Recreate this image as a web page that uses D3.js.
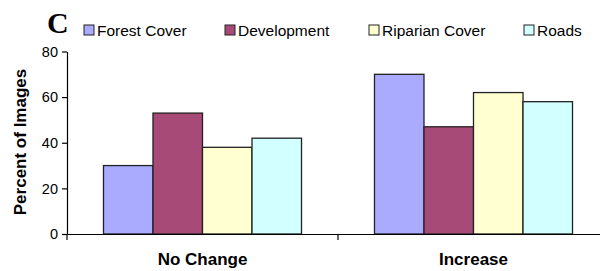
<!DOCTYPE html>
<html>
<head>
  <meta charset="utf-8">
  <script src="https://d3js.org/d3.v7.min.js"></script>
  <style type="text/css">
    body { margin: 0; background: #fff; }
    text { font-family: "Liberation Sans", Arial, sans-serif; }
  </style>
</head>
<body>
  <script type="text/javascript">
    // data
    var categories = ["No Change", "Increase"];
    var series = ["Forest Cover", "Development", "Riparian Cover", "Roads"];
    var forestCover = [30, 70];
    var development = [53, 47];
    var riparianCover = [38, 62];
    var roads = [42, 58];
    var yTicks = [0, 20, 40, 60, 80];
    var colors = ["#aaaaff", "#a84a78", "#ffffd2", "#d2ffff"];

    var values = [forestCover, development, riparianCover, roads];

    var width = 600, height = 271;
    var plotLeft = 67, plotRight = 609, plotTop = 51.5, plotBottom = 234;

    var svg = d3.select("body").append("svg")
        .attr("width", width)
        .attr("height", height);

    var x0 = d3.scaleBand().domain(categories).range([plotLeft, plotRight]);
    var x1 = d3.scaleBand().domain(series)
        .range([0, x0.bandwidth()])
        .paddingInner(0)
        .paddingOuter(0.737);
    var y = d3.scaleLinear().domain([0, 80]).range([plotBottom, plotTop]);

    // bars
    var groups = svg.selectAll("g.cat")
      .data(categories)
      .enter().append("g")
        .attr("class", "cat")
        .attr("transform", function (d) { return "translate(" + x0(d) + ",0)"; });

    groups.selectAll("rect")
      .data(function (d, i) {
        return series.map(function (s, j) { return { s: s, v: values[j][i], c: colors[j] }; });
      })
      .enter().append("rect")
        .attr("x", function (d) { return x1(d.s); })
        .attr("y", function (d) { return y(d.v); })
        .attr("width", x1.bandwidth())
        .attr("height", function (d) { return plotBottom - y(d.v); })
        .style("fill", function (d) { return d.c; })
        .style("stroke", "#222")
        .style("stroke-width", 1.3);

    // y axis
    var yAxis = svg.append("g")
        .attr("transform", "translate(" + plotLeft + ",0)")
        .call(d3.axisLeft(y).tickValues(yTicks).tickSize(5).tickSizeOuter(0).tickPadding(4));
    yAxis.selectAll("text").style("font-size", "14.5px").style("fill", "#000");
    yAxis.selectAll("line, path").style("stroke", "#000").style("stroke-width", 1.2);

    // x axis
    var xAxis = svg.append("g")
        .attr("transform", "translate(0," + plotBottom + ")")
        .call(d3.axisBottom(x0).tickSize(0).tickSizeOuter(0).tickPadding(19));
    xAxis.selectAll("text")
        .style("font-size", "17px")
        .style("font-weight", "bold")
        .style("fill", "#000");
    xAxis.select("path").style("stroke", "#000").style("stroke-width", 1.2);

    // category boundary ticks
    xAxis.selectAll("line.bound")
      .data(categories.map(function (d) { return x0(d); }))
      .enter().append("line")
        .attr("class", "bound")
        .attr("x1", function (d) { return d; })
        .attr("x2", function (d) { return d; })
        .attr("y1", 0)
        .attr("y2", 6)
        .style("stroke", "#000")
        .style("stroke-width", 1.2);

    // y title
    svg.append("text")
        .attr("transform", "translate(25.5,142) rotate(-90)")
        .attr("text-anchor", "middle")
        .style("font-size", "17px")
        .style("font-weight", "bold")
        .text("Percent of Images");

    // panel letter
    svg.append("text")
        .attr("x", 47)
        .attr("y", 33)
        .style("font-family", "'Liberation Serif', 'Times New Roman', serif")
        .style("font-size", "30px")
        .style("font-weight", "bold")
        .text("C");

    // legend
    var legendX = [84, 225, 369, 524];
    var legend = svg.selectAll("g.legend")
      .data(series)
      .enter().append("g")
        .attr("class", "legend")
        .attr("transform", function (d, i) { return "translate(" + legendX[i] + ",25)"; });
    legend.append("rect")
        .attr("width", 10)
        .attr("height", 10)
        .style("fill", function (d, i) { return colors[i]; })
        .style("stroke", "#222")
        .style("stroke-width", 1);
    legend.append("text")
        .attr("x", 13)
        .attr("y", 10.5)
        .style("font-size", "15.5px")
        .text(function (d) { return d; });
  </script>
</body>
</html>
